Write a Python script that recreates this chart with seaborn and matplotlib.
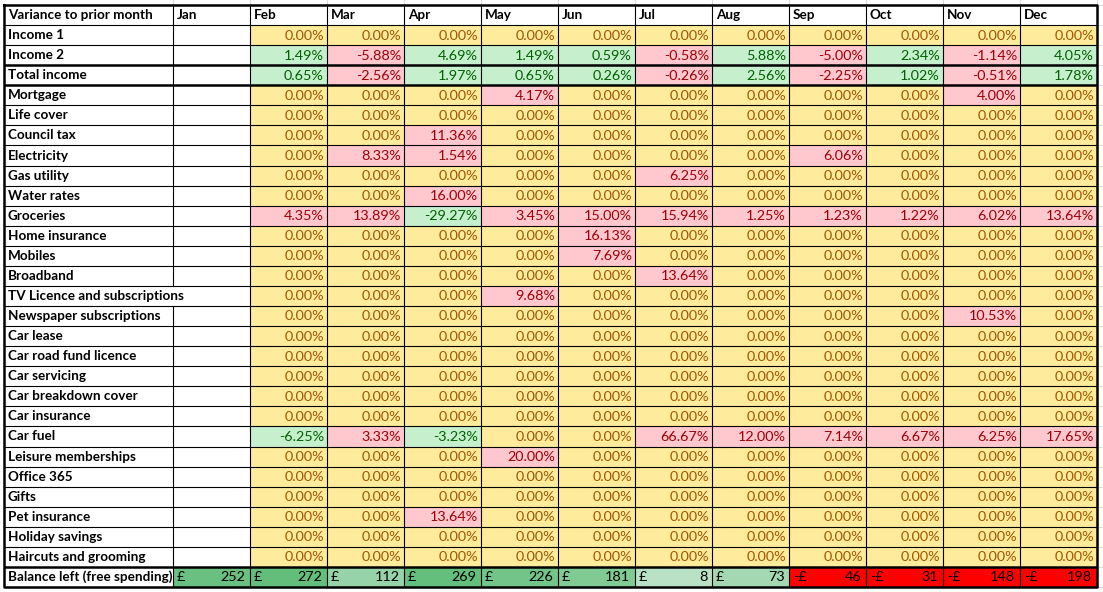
import numpy as np
import matplotlib.pyplot as plt
import seaborn as sns
from matplotlib.colors import ListedColormap, LinearSegmentedColormap

# table data (variance to prior month, %)
months = ['Jan', 'Feb', 'Mar', 'Apr', 'May', 'Jun', 'Jul', 'Aug', 'Sep', 'Oct', 'Nov', 'Dec']

income_labels = ['Income 1', 'Income 2', 'Total income']
income_1 = [0.00, 0.00, 0.00, 0.00, 0.00, 0.00, 0.00, 0.00, 0.00, 0.00, 0.00]
income_2 = [1.49, -5.88, 4.69, 1.49, 0.59, -0.58, 5.88, -5.00, 2.34, -1.14, 4.05]
total_income = [0.65, -2.56, 1.97, 0.65, 0.26, -0.26, 2.56, -2.25, 1.02, -0.51, 1.78]

expense_labels = ['Mortgage', 'Life cover', 'Council tax', 'Electricity', 'Gas utility',
                  'Water rates', 'Groceries', 'Home insurance', 'Mobiles', 'Broadband',
                  'TV Licence and subscriptions', 'Newspaper subscriptions', 'Car lease',
                  'Car road fund licence', 'Car servicing', 'Car breakdown cover',
                  'Car insurance', 'Car fuel', 'Leisure memberships', 'Office 365', 'Gifts',
                  'Pet insurance', 'Holiday savings', 'Haircuts and grooming']
expense_variance = [
    [0, 0, 0, 4.17, 0, 0, 0, 0, 0, 4.00, 0],
    [0, 0, 0, 0, 0, 0, 0, 0, 0, 0, 0],
    [0, 0, 11.36, 0, 0, 0, 0, 0, 0, 0, 0],
    [0, 8.33, 1.54, 0, 0, 0, 0, 6.06, 0, 0, 0],
    [0, 0, 0, 0, 0, 6.25, 0, 0, 0, 0, 0],
    [0, 0, 16.00, 0, 0, 0, 0, 0, 0, 0, 0],
    [4.35, 13.89, -29.27, 3.45, 15.00, 15.94, 1.25, 1.23, 1.22, 6.02, 13.64],
    [0, 0, 0, 0, 16.13, 0, 0, 0, 0, 0, 0],
    [0, 0, 0, 0, 7.69, 0, 0, 0, 0, 0, 0],
    [0, 0, 0, 0, 0, 13.64, 0, 0, 0, 0, 0],
    [0, 0, 0, 9.68, 0, 0, 0, 0, 0, 0, 0],
    [0, 0, 0, 0, 0, 0, 0, 0, 0, 10.53, 0],
    [0, 0, 0, 0, 0, 0, 0, 0, 0, 0, 0],
    [0, 0, 0, 0, 0, 0, 0, 0, 0, 0, 0],
    [0, 0, 0, 0, 0, 0, 0, 0, 0, 0, 0],
    [0, 0, 0, 0, 0, 0, 0, 0, 0, 0, 0],
    [0, 0, 0, 0, 0, 0, 0, 0, 0, 0, 0],
    [-6.25, 3.33, -3.23, 0, 0, 66.67, 12.00, 7.14, 6.67, 6.25, 17.65],
    [0, 0, 0, 20.00, 0, 0, 0, 0, 0, 0, 0],
    [0, 0, 0, 0, 0, 0, 0, 0, 0, 0, 0],
    [0, 0, 0, 0, 0, 0, 0, 0, 0, 0, 0],
    [0, 0, 13.64, 0, 0, 0, 0, 0, 0, 0, 0],
    [0, 0, 0, 0, 0, 0, 0, 0, 0, 0, 0],
    [0, 0, 0, 0, 0, 0, 0, 0, 0, 0, 0],
]

balance_label = 'Balance left (free spending)'
balance = [252, 272, 112, 269, 226, 181, 8, 73, -46, -31, -148, -198]

# Excel conditional-format colours
YELLOW, YELLOW_TXT = '#FFEB9C', '#9C5700'
GREEN, GREEN_TXT = '#C6EFCE', '#006100'
PINK, PINK_TXT = '#FFC7CE', '#9C0006'
RED = '#FF0000'

row_labels = income_labels + expense_labels + [balance_label]
n_rows = len(row_labels)
n_inc = len(income_labels)

var = np.full((n_rows - 1, 12), np.nan)
for i, r in enumerate([income_1, income_2, total_income] + expense_variance):
    var[i, 1:] = r

# 0 = no change, 1 = good, 2 = bad, 3 = negative balance
sign = np.sign(var)
sign[n_inc:] *= -1
codes = np.where(sign == 0, 0, np.where(sign > 0, 1, 2)).astype(float)
codes[np.isnan(var)] = np.nan
bal = np.array(balance, dtype=float)
codes = np.vstack([codes, np.where(bal < 0, 3, np.nan)])

bal_pos = np.full((n_rows, 12), np.nan)
bal_pos[-1] = np.where(bal >= 0, bal, np.nan)

plt.rcParams['font.family'] = ['Lato', 'DejaVu Sans']
fig = plt.figure(figsize=(11.03, 5.92), dpi=100)
fig.patch.set_facecolor('white')
ax = fig.add_axes([4 / 1103, 5 / 592, 1093 / 1103, 582 / 592])

sns.heatmap(codes, cmap=ListedColormap([YELLOW, GREEN, PINK, RED]), vmin=-0.5, vmax=3.5,
            cbar=False, xticklabels=False, yticklabels=False, ax=ax)
green_scale = LinearSegmentedColormap.from_list('g', ['#FCFCFF', '#63BE7B'])
sns.heatmap(bal_pos, cmap=green_scale, vmin=bal.min(), vmax=bal.max(),
            cbar=False, xticklabels=False, yticklabels=False, ax=ax)

label_w = 169 / 77
ax.set_xlim(-label_w, 12)
ax.set_ylim(n_rows, -1)
ax.set_facecolor('white')

fs_lab, fs_num = 9.7, 10.4
txt_col = {0: YELLOW_TXT, 1: GREEN_TXT, 2: PINK_TXT}

# faint sheet gridlines outside the table
grid_c = '#D9D9D9'
for j in range(0, 13):
    ax.plot([j, j], [-1.3, -1], color=grid_c, lw=0.7, clip_on=False)
for y in range(-1, n_rows + 1):
    ax.plot([12, 12.1], [y, y], color=grid_c, lw=0.7, clip_on=False)

# header
ax.text(-label_w + 0.05, -0.5, 'Variance to prior month', ha='left', va='center',
        fontsize=fs_lab, fontweight='bold')
for j, m in enumerate(months):
    ax.text(j + 0.05, -0.5, m, ha='left', va='center', fontsize=fs_lab, fontweight='bold')

for i, lab in enumerate(row_labels):
    ax.text(-label_w + 0.05, i + 0.5, lab, ha='left', va='center', fontsize=fs_lab,
            fontweight='bold')

for i in range(n_rows - 1):
    for j in range(12):
        if np.isnan(var[i, j]):
            continue
        ax.text(j + 0.96, i + 0.52, f'{var[i, j]:.2f}%', ha='right', va='center',
                fontsize=fs_num, color=txt_col[int(codes[i, j])])

for j, b in enumerate(balance):
    ax.text(j + 0.05, n_rows - 0.48, '-£' if b < 0 else '£', ha='left', va='center',
            fontsize=fs_num, color='black')
    ax.text(j + 0.94, n_rows - 0.48, f'{abs(b)}', ha='right', va='center',
            fontsize=fs_num, color='black')

# cell borders
thin, thick = 0.8, 1.8
for y in range(0, n_rows):
    ax.plot([-label_w, 12], [y, y], color='black',
            lw=thick if y in (n_inc - 1, n_inc, n_rows - 1) else thin)
tv_row = row_labels.index('TV Licence and subscriptions')
for j in range(1, 12):
    ax.plot([j, j], [-1, n_rows], color='black', lw=thin)
for i in range(-1, n_rows):
    if i != tv_row:
        ax.plot([0, 0], [i, i + 1], color='black', lw=thin)
ax.plot([-label_w, 12, 12, -label_w, -label_w], [-1, -1, n_rows, n_rows, -1],
        color='black', lw=thick, clip_on=False)

fig.savefig('out.png', dpi=100, facecolor='white')
